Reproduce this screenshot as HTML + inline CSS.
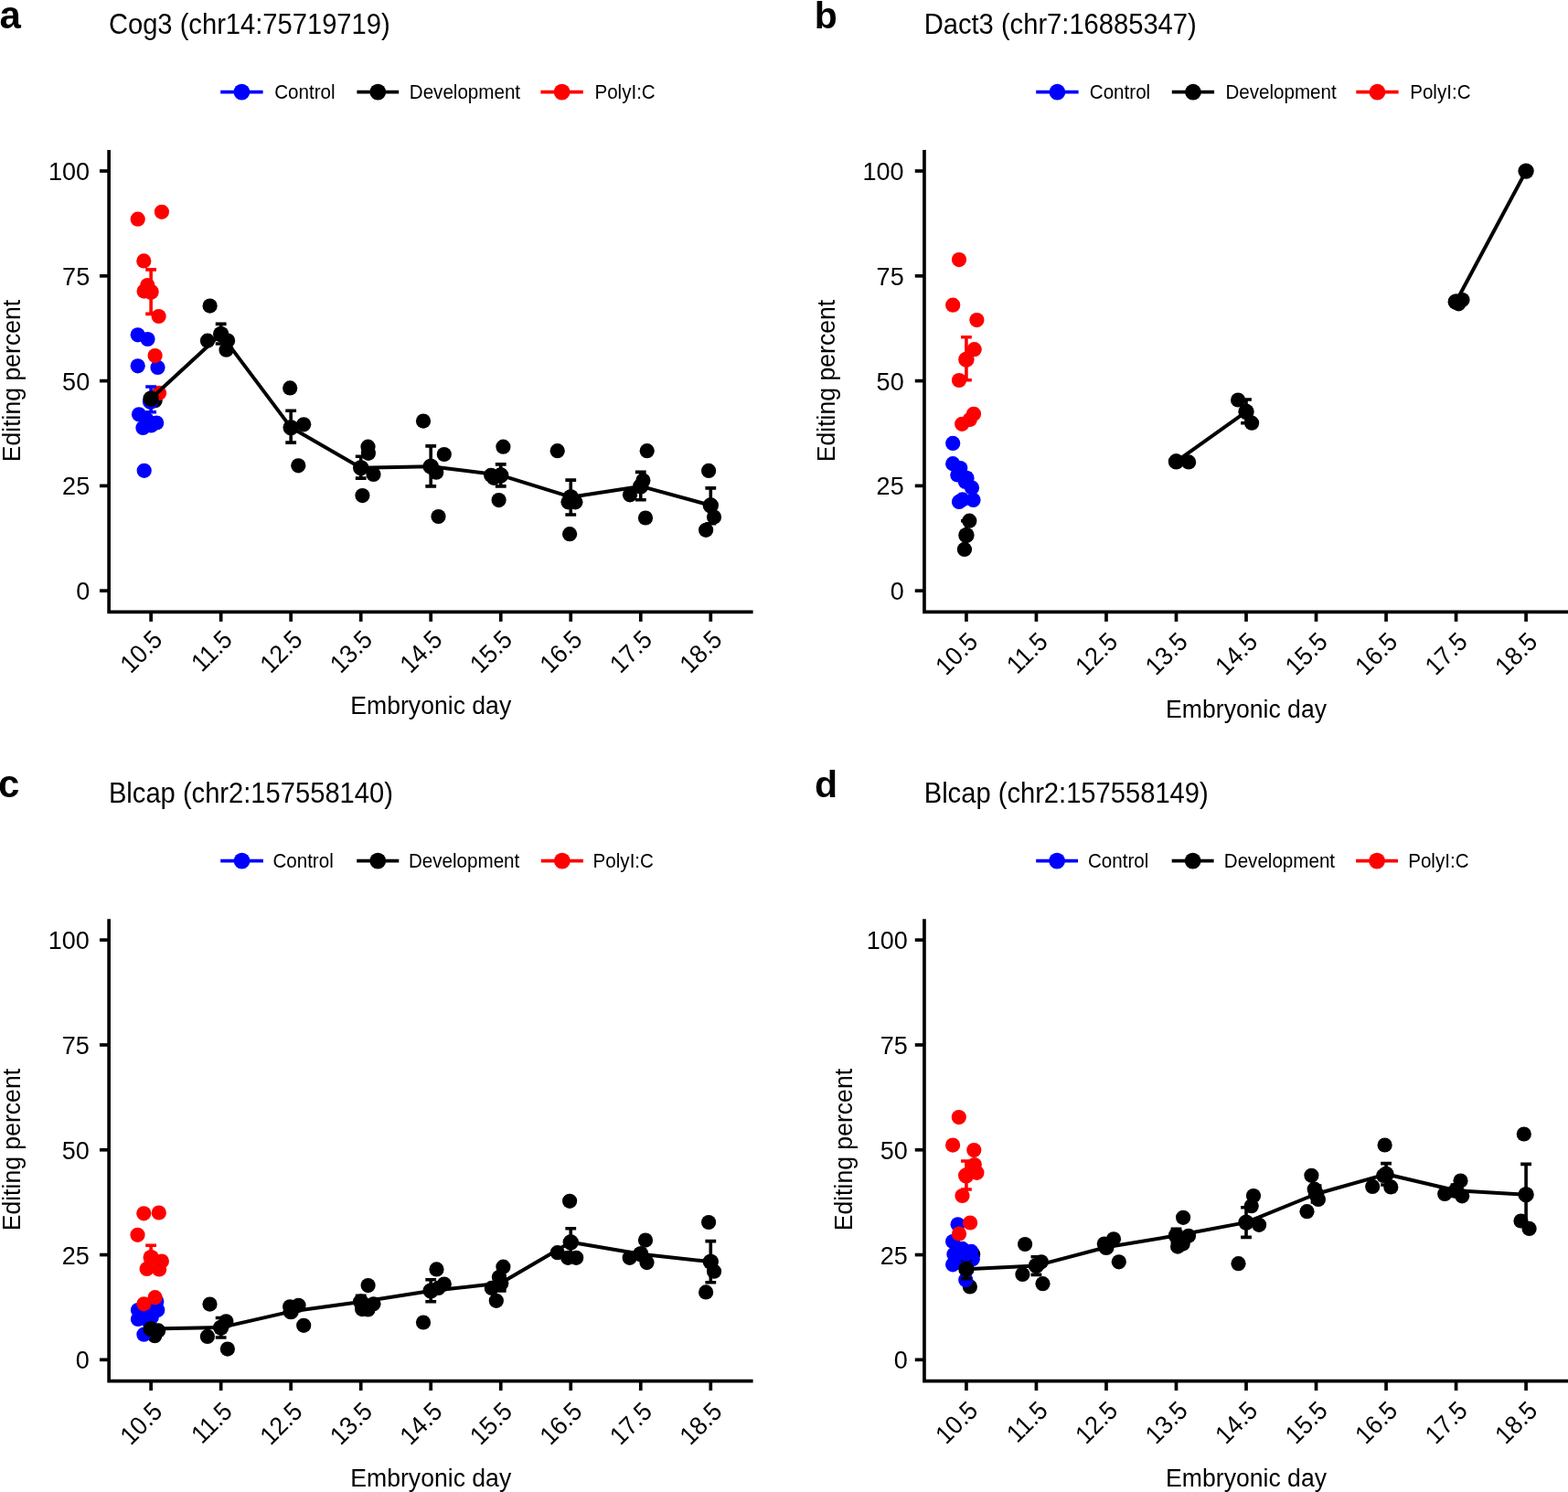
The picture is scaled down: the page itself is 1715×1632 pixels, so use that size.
<!DOCTYPE html>
<html lang="en"><head><meta charset="utf-8"><title>Editing percent by embryonic day</title>
<style>html,body{margin:0;padding:0;background:#fff}body{width:1715px;height:1632px;overflow:hidden}svg{display:block}text{font-family:'Liberation Sans', Arial, Helvetica, sans-serif;fill:#000}.t{font-size:30.61px}.l{font-size:21.42px}.x{font-size:27px}.k{font-size:28px}.b{font-size:42px;font-weight:bold}</style>
</head><body>
<svg width="1715" height="1632" viewBox="0 0 1715 1632">
<rect width="1715" height="1632" fill="#fff"/>
<g id="panel-a">
<text class="b" transform="translate(-0.5 30.7)">a</text>
<text class="t" transform="translate(118.9 36.9) scale(0.9524 1)">Cog3 (chr14:75719719)</text>
<line x1="241.2" y1="100.6" x2="287.6" y2="100.6" stroke="#0000ff" stroke-width="3.7"/>
<circle cx="264.4" cy="100.6" r="8.9" fill="#0000ff"/>
<text class="l" transform="translate(300.2 107.8) scale(0.9612 1)">Control</text>
<line x1="390.4" y1="100.6" x2="436.2" y2="100.6" stroke="#000000" stroke-width="3.7"/>
<circle cx="413.3" cy="100.6" r="8.9" fill="#000000"/>
<text class="l" transform="translate(447.8 107.8) scale(0.9612 1)">Development</text>
<line x1="591.4" y1="100.6" x2="637.8" y2="100.6" stroke="#ff0000" stroke-width="3.7"/>
<circle cx="614.6" cy="100.6" r="8.9" fill="#ff0000"/>
<text class="l" transform="translate(650.4 107.8) scale(0.9612 1)">PolyI:C</text>
<g fill="#000000"><circle cx="169.6" cy="438.2" r="8.1"/><circle cx="229.6" cy="334.6" r="8.1"/><circle cx="227" cy="372.7" r="8.1"/><circle cx="249.1" cy="372.5" r="8.1"/><circle cx="247.5" cy="382.7" r="8.1"/><circle cx="317.2" cy="424.4" r="8.1"/><circle cx="332.2" cy="464.3" r="8.1"/><circle cx="326.3" cy="509.3" r="8.1"/><circle cx="402.5" cy="488.7" r="8.1"/><circle cx="402.9" cy="495.8" r="8.1"/><circle cx="408.5" cy="519" r="8.1"/><circle cx="396.4" cy="542.1" r="8.1"/><circle cx="463" cy="460.6" r="8.1"/><circle cx="485.8" cy="497" r="8.1"/><circle cx="477.2" cy="516.7" r="8.1"/><circle cx="479.5" cy="565" r="8.1"/><circle cx="550.4" cy="488.7" r="8.1"/><circle cx="537.1" cy="519.8" r="8.1"/><circle cx="540.1" cy="522.8" r="8.1"/><circle cx="545.6" cy="547.1" r="8.1"/><circle cx="609.7" cy="493.2" r="8.1"/><circle cx="621.5" cy="549.3" r="8.1"/><circle cx="629.4" cy="549.3" r="8.1"/><circle cx="623.1" cy="584.2" r="8.1"/><circle cx="707.7" cy="493.2" r="8.1"/><circle cx="703.4" cy="525.5" r="8.1"/><circle cx="689" cy="541.3" r="8.1"/><circle cx="706" cy="566.5" r="8.1"/><circle cx="775.1" cy="514.9" r="8.1"/><circle cx="781" cy="565.6" r="8.1"/><circle cx="772.1" cy="579.8" r="8.1"/></g>
<g fill="#0000ff"><circle cx="150.7" cy="366.3" r="8.1"/><circle cx="161.5" cy="371" r="8.1"/><circle cx="150.7" cy="400.3" r="8.1"/><circle cx="172.5" cy="401.9" r="8.1"/><circle cx="152" cy="453.3" r="8.1"/><circle cx="156.4" cy="468" r="8.1"/><circle cx="165.2" cy="465.4" r="8.1"/><circle cx="171.2" cy="462.5" r="8.1"/><circle cx="157.7" cy="514.8" r="8.1"/><circle cx="160.5" cy="459" r="8.1"/></g>
<g fill="#ff0000"><circle cx="150.7" cy="239.7" r="8.1"/><circle cx="176.9" cy="231.8" r="8.1"/><circle cx="157.3" cy="285.4" r="8.1"/><circle cx="161.3" cy="312.1" r="8.1"/><circle cx="157.6" cy="318.6" r="8.1"/><circle cx="173.6" cy="346" r="8.1"/><circle cx="169.6" cy="389.1" r="8.1"/><circle cx="174" cy="429.9" r="8.1"/></g>
<path d="M159.23 423H171.03M165.13 423V450.8M159.23 450.8H171.03" stroke="#0000ff" stroke-width="3.6" fill="none"/>
<path d="M159.23 294.9H171.03M165.13 294.9V343.4M159.23 343.4H171.03" stroke="#ff0000" stroke-width="3.6" fill="none"/>
<path d="M235.75 354.4H247.55M241.65 354.4V376M235.75 376H247.55" stroke="#000000" stroke-width="3.6" fill="none"/>
<path d="M312.27 449.3H324.07M318.17 449.3V484.1M312.27 484.1H324.07" stroke="#000000" stroke-width="3.6" fill="none"/>
<path d="M388.79 499.3H400.59M394.69 499.3V523.1M388.79 523.1H400.59" stroke="#000000" stroke-width="3.6" fill="none"/>
<path d="M465.31 487.9H477.11M471.21 487.9V531.9M465.31 531.9H477.11" stroke="#000000" stroke-width="3.6" fill="none"/>
<path d="M541.83 507.9H553.63M547.73 507.9V531.9M541.83 531.9H553.63" stroke="#000000" stroke-width="3.6" fill="none"/>
<path d="M618.35 525.1H630.15M624.25 525.1V563M618.35 563H630.15" stroke="#000000" stroke-width="3.6" fill="none"/>
<path d="M694.87 516.4H706.67M700.77 516.4V546.8M694.87 546.8H706.67" stroke="#000000" stroke-width="3.6" fill="none"/>
<path d="M771.39 533.9H783.19M777.29 533.9V572.8M771.39 572.8H783.19" stroke="#000000" stroke-width="3.6" fill="none"/>
<circle cx="164.6" cy="439.2" r="8.7" fill="#0000ff"/>
<circle cx="165" cy="319.2" r="8.7" fill="#ff0000"/>
<polyline points="165.13,436 241.65,365.5 318.17,467.6 394.69,511.7 471.21,510.2 547.73,519.8 624.25,543.7 700.77,531.9 777.29,552.8" fill="none" stroke="#000" stroke-width="4" stroke-linejoin="round"/>
<g fill="#000"><circle cx="165.13" cy="436" r="8.7"/><circle cx="241.65" cy="365.5" r="8.7"/><circle cx="318.17" cy="467.6" r="8.7"/><circle cx="394.69" cy="511.7" r="8.7"/><circle cx="471.21" cy="510.2" r="8.7"/><circle cx="547.73" cy="519.8" r="8.7"/><circle cx="624.25" cy="543.7" r="8.7"/><circle cx="700.77" cy="531.9" r="8.7"/><circle cx="777.29" cy="552.8" r="8.7"/></g>
<path d="M119.15 165.9V669.4H821.75" fill="none" stroke="#000" stroke-width="3.7" stroke-linecap="square" stroke-linejoin="miter"/>
<line x1="108.95" y1="646.19" x2="119.15" y2="646.19" stroke="#000" stroke-width="3.7"/>
<text class="k" text-anchor="end" transform="translate(98.15 656.19) scale(0.965 1)">0</text>
<line x1="108.95" y1="531.4" x2="119.15" y2="531.4" stroke="#000" stroke-width="3.7"/>
<text class="k" text-anchor="end" transform="translate(98.15 541.4) scale(0.965 1)">25</text>
<line x1="108.95" y1="416.61" x2="119.15" y2="416.61" stroke="#000" stroke-width="3.7"/>
<text class="k" text-anchor="end" transform="translate(98.15 426.61) scale(0.965 1)">50</text>
<line x1="108.95" y1="301.82" x2="119.15" y2="301.82" stroke="#000" stroke-width="3.7"/>
<text class="k" text-anchor="end" transform="translate(98.15 311.82) scale(0.965 1)">75</text>
<line x1="108.95" y1="187.03" x2="119.15" y2="187.03" stroke="#000" stroke-width="3.7"/>
<text class="k" text-anchor="end" transform="translate(98.15 197.03) scale(0.965 1)">100</text>
<line x1="165.13" y1="669.4" x2="165.13" y2="679.9" stroke="#000" stroke-width="3.7"/>
<text class="k" text-anchor="end" transform="translate(179.23 701.3) rotate(-45) scale(0.943 1)">10.5</text>
<line x1="241.65" y1="669.4" x2="241.65" y2="679.9" stroke="#000" stroke-width="3.7"/>
<text class="k" text-anchor="end" transform="translate(255.75 701.3) rotate(-45) scale(0.943 1)">11.5</text>
<line x1="318.17" y1="669.4" x2="318.17" y2="679.9" stroke="#000" stroke-width="3.7"/>
<text class="k" text-anchor="end" transform="translate(332.27 701.3) rotate(-45) scale(0.943 1)">12.5</text>
<line x1="394.69" y1="669.4" x2="394.69" y2="679.9" stroke="#000" stroke-width="3.7"/>
<text class="k" text-anchor="end" transform="translate(408.79 701.3) rotate(-45) scale(0.943 1)">13.5</text>
<line x1="471.21" y1="669.4" x2="471.21" y2="679.9" stroke="#000" stroke-width="3.7"/>
<text class="k" text-anchor="end" transform="translate(485.31 701.3) rotate(-45) scale(0.943 1)">14.5</text>
<line x1="547.73" y1="669.4" x2="547.73" y2="679.9" stroke="#000" stroke-width="3.7"/>
<text class="k" text-anchor="end" transform="translate(561.83 701.3) rotate(-45) scale(0.943 1)">15.5</text>
<line x1="624.25" y1="669.4" x2="624.25" y2="679.9" stroke="#000" stroke-width="3.7"/>
<text class="k" text-anchor="end" transform="translate(638.35 701.3) rotate(-45) scale(0.943 1)">16.5</text>
<line x1="700.77" y1="669.4" x2="700.77" y2="679.9" stroke="#000" stroke-width="3.7"/>
<text class="k" text-anchor="end" transform="translate(714.87 701.3) rotate(-45) scale(0.943 1)">17.5</text>
<line x1="777.29" y1="669.4" x2="777.29" y2="679.9" stroke="#000" stroke-width="3.7"/>
<text class="k" text-anchor="end" transform="translate(791.39 701.3) rotate(-45) scale(0.943 1)">18.5</text>
<text class="x" text-anchor="middle" transform="translate(471.25 781) scale(0.9852 1)">Embryonic day</text>
<text class="x" text-anchor="middle" transform="translate(22.05 416.5) rotate(-90) scale(0.9852 1)">Editing percent</text>
</g>
<g id="panel-b">
<text class="b" style="font-size:41px" transform="translate(890.8 30.7)">b</text>
<text class="t" transform="translate(1010.7 36.9) scale(0.9524 1)">Dact3 (chr7:16885347)</text>
<line x1="1133.2" y1="100.7" x2="1179.6" y2="100.7" stroke="#0000ff" stroke-width="3.7"/>
<circle cx="1156.4" cy="100.7" r="8.9" fill="#0000ff"/>
<text class="l" transform="translate(1191.8 107.9) scale(0.9612 1)">Control</text>
<line x1="1281.8" y1="100.7" x2="1328.1" y2="100.7" stroke="#000000" stroke-width="3.7"/>
<circle cx="1304.95" cy="100.7" r="8.9" fill="#000000"/>
<text class="l" transform="translate(1340.4 107.9) scale(0.9612 1)">Development</text>
<line x1="1483.3" y1="100.7" x2="1529.6" y2="100.7" stroke="#ff0000" stroke-width="3.7"/>
<circle cx="1506.45" cy="100.7" r="8.9" fill="#ff0000"/>
<text class="l" transform="translate(1542.2 107.9) scale(0.9612 1)">PolyI:C</text>
<g fill="#000000"><circle cx="1060.3" cy="569.7" r="8.1"/><circle cx="1054.9" cy="600.9" r="8.1"/><circle cx="1300.1" cy="505.4" r="8.1"/><circle cx="1354.1" cy="437.5" r="8.1"/><circle cx="1369.1" cy="462.7" r="8.1"/><circle cx="1591.7" cy="330.3" r="8.1"/><circle cx="1599.5" cy="328.1" r="8.1"/><circle cx="1595.4" cy="332.3" r="8.1"/></g>
<g fill="#0000ff"><circle cx="1042.2" cy="484.9" r="8.1"/><circle cx="1042.2" cy="507.2" r="8.1"/><circle cx="1050.3" cy="512.1" r="8.1"/><circle cx="1047.3" cy="519.5" r="8.1"/><circle cx="1055.9" cy="527" r="8.1"/><circle cx="1063" cy="533.5" r="8.1"/><circle cx="1064.5" cy="546.9" r="8.1"/><circle cx="1052.7" cy="546.4" r="8.1"/><circle cx="1049" cy="548.9" r="8.1"/></g>
<g fill="#ff0000"><circle cx="1049" cy="284.1" r="8.1"/><circle cx="1042.2" cy="333.7" r="8.1"/><circle cx="1068.4" cy="350.1" r="8.1"/><circle cx="1065.7" cy="382.2" r="8.1"/><circle cx="1049" cy="416" r="8.1"/><circle cx="1065" cy="452.8" r="8.1"/><circle cx="1060.8" cy="458.9" r="8.1"/><circle cx="1052.2" cy="463.8" r="8.1"/></g>
<path d="M1051.03 518H1062.83M1056.93 518V530M1051.03 530H1062.83" stroke="#0000ff" stroke-width="3.6" fill="none"/>
<path d="M1051.03 368.7H1062.83M1056.93 368.7V415.8M1051.03 415.8H1062.83" stroke="#ff0000" stroke-width="3.6" fill="none"/>
<path d="M1051.03 569.7H1062.83M1056.93 569.7V600.9M1051.03 600.9H1062.83" stroke="#000000" stroke-width="3.6" fill="none"/>
<path d="M1357.11 437H1368.91M1363.01 437V462.7M1357.11 462.7H1368.91" stroke="#000000" stroke-width="3.6" fill="none"/>
<circle cx="1056.9" cy="523.2" r="8.7" fill="#0000ff"/>
<circle cx="1056.9" cy="393.2" r="8.7" fill="#ff0000"/>
<polyline points="1286.49,504.8 1363.01,450.3" fill="none" stroke="#000" stroke-width="4" stroke-linejoin="round"/>
<g fill="#000"><circle cx="1286.49" cy="504.8" r="8.7"/><circle cx="1363.01" cy="450.3" r="8.7"/></g>
<polyline points="1592.57,330 1669.09,187.1" fill="none" stroke="#000" stroke-width="4" stroke-linejoin="round"/>
<g fill="#000"><circle cx="1592.57" cy="330" r="8.7"/><circle cx="1669.09" cy="187.1" r="8.7"/></g>
<circle cx="1056.93" cy="585.4" r="8.7" fill="#000"/>
<path d="M1010.95 165.9V669.4H1713.55" fill="none" stroke="#000" stroke-width="3.7" stroke-linecap="square" stroke-linejoin="miter"/>
<line x1="1000.75" y1="646.19" x2="1010.95" y2="646.19" stroke="#000" stroke-width="3.7"/>
<text class="k" text-anchor="end" transform="translate(988.65 656.19) scale(0.965 1)">0</text>
<line x1="1000.75" y1="531.4" x2="1010.95" y2="531.4" stroke="#000" stroke-width="3.7"/>
<text class="k" text-anchor="end" transform="translate(988.65 541.4) scale(0.965 1)">25</text>
<line x1="1000.75" y1="416.61" x2="1010.95" y2="416.61" stroke="#000" stroke-width="3.7"/>
<text class="k" text-anchor="end" transform="translate(988.65 426.61) scale(0.965 1)">50</text>
<line x1="1000.75" y1="301.82" x2="1010.95" y2="301.82" stroke="#000" stroke-width="3.7"/>
<text class="k" text-anchor="end" transform="translate(988.65 311.82) scale(0.965 1)">75</text>
<line x1="1000.75" y1="187.03" x2="1010.95" y2="187.03" stroke="#000" stroke-width="3.7"/>
<text class="k" text-anchor="end" transform="translate(988.65 197.03) scale(0.965 1)">100</text>
<line x1="1056.93" y1="669.4" x2="1056.93" y2="679.9" stroke="#000" stroke-width="3.7"/>
<text class="k" text-anchor="end" transform="translate(1071.03 703.6) rotate(-45) scale(0.943 1)">10.5</text>
<line x1="1133.45" y1="669.4" x2="1133.45" y2="679.9" stroke="#000" stroke-width="3.7"/>
<text class="k" text-anchor="end" transform="translate(1147.55 703.6) rotate(-45) scale(0.943 1)">11.5</text>
<line x1="1209.97" y1="669.4" x2="1209.97" y2="679.9" stroke="#000" stroke-width="3.7"/>
<text class="k" text-anchor="end" transform="translate(1224.07 703.6) rotate(-45) scale(0.943 1)">12.5</text>
<line x1="1286.49" y1="669.4" x2="1286.49" y2="679.9" stroke="#000" stroke-width="3.7"/>
<text class="k" text-anchor="end" transform="translate(1300.59 703.6) rotate(-45) scale(0.943 1)">13.5</text>
<line x1="1363.01" y1="669.4" x2="1363.01" y2="679.9" stroke="#000" stroke-width="3.7"/>
<text class="k" text-anchor="end" transform="translate(1377.11 703.6) rotate(-45) scale(0.943 1)">14.5</text>
<line x1="1439.53" y1="669.4" x2="1439.53" y2="679.9" stroke="#000" stroke-width="3.7"/>
<text class="k" text-anchor="end" transform="translate(1453.63 703.6) rotate(-45) scale(0.943 1)">15.5</text>
<line x1="1516.05" y1="669.4" x2="1516.05" y2="679.9" stroke="#000" stroke-width="3.7"/>
<text class="k" text-anchor="end" transform="translate(1530.15 703.6) rotate(-45) scale(0.943 1)">16.5</text>
<line x1="1592.57" y1="669.4" x2="1592.57" y2="679.9" stroke="#000" stroke-width="3.7"/>
<text class="k" text-anchor="end" transform="translate(1606.67 703.6) rotate(-45) scale(0.943 1)">17.5</text>
<line x1="1669.09" y1="669.4" x2="1669.09" y2="679.9" stroke="#000" stroke-width="3.7"/>
<text class="k" text-anchor="end" transform="translate(1683.19 703.6) rotate(-45) scale(0.943 1)">18.5</text>
<text class="x" text-anchor="middle" transform="translate(1363.05 784.5) scale(0.9852 1)">Embryonic day</text>
<text class="x" text-anchor="middle" transform="translate(913.35 416.5) rotate(-90) scale(0.9852 1)">Editing percent</text>
</g>
<g id="panel-c">
<text class="b" transform="translate(-2 871.85)">c</text>
<text class="t" transform="translate(118.9 878.05) scale(0.9524 1)">Blcap (chr2:157558140)</text>
<line x1="241.2" y1="941.6" x2="287.9" y2="941.6" stroke="#0000ff" stroke-width="3.7"/>
<circle cx="264.55" cy="941.6" r="8.9" fill="#0000ff"/>
<text class="l" transform="translate(298.4 948.8) scale(0.9612 1)">Control</text>
<line x1="390.2" y1="941.6" x2="436.3" y2="941.6" stroke="#000000" stroke-width="3.7"/>
<circle cx="413.25" cy="941.6" r="8.9" fill="#000000"/>
<text class="l" transform="translate(447 948.8) scale(0.9612 1)">Development</text>
<line x1="591.8" y1="941.6" x2="637.9" y2="941.6" stroke="#ff0000" stroke-width="3.7"/>
<circle cx="614.85" cy="941.6" r="8.9" fill="#ff0000"/>
<text class="l" transform="translate(648.6 948.8) scale(0.9612 1)">PolyI:C</text>
<g fill="#000000"><circle cx="173.1" cy="1455.4" r="8.1"/><circle cx="169.3" cy="1461.2" r="8.1"/><circle cx="229.5" cy="1426.6" r="8.1"/><circle cx="247.3" cy="1445.3" r="8.1"/><circle cx="226.9" cy="1461.9" r="8.1"/><circle cx="248.9" cy="1475.6" r="8.1"/><circle cx="317.1" cy="1429.3" r="8.1"/><circle cx="326.5" cy="1427.8" r="8.1"/><circle cx="332.2" cy="1449.8" r="8.1"/><circle cx="402.6" cy="1406.1" r="8.1"/><circle cx="408.5" cy="1426.3" r="8.1"/><circle cx="396.1" cy="1432.1" r="8.1"/><circle cx="402.5" cy="1432.4" r="8.1"/><circle cx="477.5" cy="1388.4" r="8.1"/><circle cx="485.8" cy="1404.6" r="8.1"/><circle cx="479.5" cy="1408.9" r="8.1"/><circle cx="463" cy="1446.5" r="8.1"/><circle cx="550.4" cy="1385.7" r="8.1"/><circle cx="545.9" cy="1397" r="8.1"/><circle cx="537.8" cy="1408.9" r="8.1"/><circle cx="542.8" cy="1422.8" r="8.1"/><circle cx="623.1" cy="1313.8" r="8.1"/><circle cx="609.7" cy="1370.2" r="8.1"/><circle cx="621.2" cy="1375.8" r="8.1"/><circle cx="630.2" cy="1375.8" r="8.1"/><circle cx="706" cy="1356.6" r="8.1"/><circle cx="688.7" cy="1375.8" r="8.1"/><circle cx="707.5" cy="1381.1" r="8.1"/><circle cx="775.1" cy="1337" r="8.1"/><circle cx="781" cy="1390.7" r="8.1"/><circle cx="772.1" cy="1413.4" r="8.1"/></g>
<g fill="#0000ff"><circle cx="151" cy="1433.1" r="8.1"/><circle cx="171.3" cy="1423.6" r="8.1"/><circle cx="172.3" cy="1433.1" r="8.1"/><circle cx="151" cy="1443" r="8.1"/><circle cx="157.9" cy="1437.7" r="8.1"/><circle cx="157.4" cy="1459.7" r="8.1"/><circle cx="163" cy="1446" r="8.1"/><circle cx="160" cy="1430" r="8.1"/></g>
<g fill="#ff0000"><circle cx="157.3" cy="1327.3" r="8.1"/><circle cx="173.8" cy="1326.5" r="8.1"/><circle cx="150.5" cy="1350.8" r="8.1"/><circle cx="176.9" cy="1379.6" r="8.1"/><circle cx="160.6" cy="1387.9" r="8.1"/><circle cx="174.1" cy="1388.4" r="8.1"/><circle cx="169.6" cy="1419.2" r="8.1"/><circle cx="157.4" cy="1426.3" r="8.1"/></g>
<path d="M159.23 1435.5H171.03M165.13 1435.5V1446M159.23 1446H171.03" stroke="#0000ff" stroke-width="3.6" fill="none"/>
<path d="M159.23 1362.3H171.03M165.13 1362.3V1389M159.23 1389H171.03" stroke="#ff0000" stroke-width="3.6" fill="none"/>
<path d="M159.23 1449H171.03M165.13 1449V1458.5M159.23 1458.5H171.03" stroke="#000000" stroke-width="3.6" fill="none"/>
<path d="M235.75 1441.5H247.55M241.65 1441.5V1463M235.75 1463H247.55" stroke="#000000" stroke-width="3.6" fill="none"/>
<path d="M312.27 1429.5H324.07M318.17 1429.5V1438.5M312.27 1438.5H324.07" stroke="#000000" stroke-width="3.6" fill="none"/>
<path d="M388.79 1417.2H400.59M394.69 1417.2V1431M388.79 1431H400.59" stroke="#000000" stroke-width="3.6" fill="none"/>
<path d="M465.31 1399.8H477.11M471.21 1399.8V1423.7M465.31 1423.7H477.11" stroke="#000000" stroke-width="3.6" fill="none"/>
<path d="M541.83 1395.5H553.63M547.73 1395.5V1411.9M541.83 1411.9H553.63" stroke="#000000" stroke-width="3.6" fill="none"/>
<path d="M618.35 1343.7H630.15M624.25 1343.7V1374M618.35 1374H630.15" stroke="#000000" stroke-width="3.6" fill="none"/>
<path d="M694.87 1367H706.67M700.77 1367V1376.5M694.87 1376.5H706.67" stroke="#000000" stroke-width="3.6" fill="none"/>
<path d="M771.39 1357.6H783.19M777.29 1357.6V1402.8M771.39 1402.8H783.19" stroke="#000000" stroke-width="3.6" fill="none"/>
<circle cx="165.2" cy="1440.7" r="8.7" fill="#0000ff"/>
<circle cx="165.2" cy="1375.5" r="8.7" fill="#ff0000"/>
<polyline points="165.13,1453.6 241.65,1452.1 318.17,1434.6 394.69,1424 471.21,1411.9 547.73,1403.6 624.25,1358.8 700.77,1371.7 777.29,1380.1" fill="none" stroke="#000" stroke-width="4" stroke-linejoin="round"/>
<g fill="#000"><circle cx="165.13" cy="1453.6" r="8.7"/><circle cx="241.65" cy="1452.1" r="8.7"/><circle cx="318.17" cy="1434.6" r="8.7"/><circle cx="394.69" cy="1424" r="8.7"/><circle cx="471.21" cy="1411.9" r="8.7"/><circle cx="547.73" cy="1403.6" r="8.7"/><circle cx="624.25" cy="1358.8" r="8.7"/><circle cx="700.77" cy="1371.7" r="8.7"/><circle cx="777.29" cy="1380.1" r="8.7"/></g>
<path d="M119.15 1007.05V1510.55H821.75" fill="none" stroke="#000" stroke-width="3.7" stroke-linecap="square" stroke-linejoin="miter"/>
<line x1="108.95" y1="1487.34" x2="119.15" y2="1487.34" stroke="#000" stroke-width="3.7"/>
<text class="k" text-anchor="end" transform="translate(97.75 1497.34) scale(0.965 1)">0</text>
<line x1="108.95" y1="1372.55" x2="119.15" y2="1372.55" stroke="#000" stroke-width="3.7"/>
<text class="k" text-anchor="end" transform="translate(97.75 1382.55) scale(0.965 1)">25</text>
<line x1="108.95" y1="1257.76" x2="119.15" y2="1257.76" stroke="#000" stroke-width="3.7"/>
<text class="k" text-anchor="end" transform="translate(97.75 1267.76) scale(0.965 1)">50</text>
<line x1="108.95" y1="1142.97" x2="119.15" y2="1142.97" stroke="#000" stroke-width="3.7"/>
<text class="k" text-anchor="end" transform="translate(97.75 1152.97) scale(0.965 1)">75</text>
<line x1="108.95" y1="1028.18" x2="119.15" y2="1028.18" stroke="#000" stroke-width="3.7"/>
<text class="k" text-anchor="end" transform="translate(97.75 1038.18) scale(0.965 1)">100</text>
<line x1="165.13" y1="1510.55" x2="165.13" y2="1521.05" stroke="#000" stroke-width="3.7"/>
<text class="k" text-anchor="end" transform="translate(179.23 1545.65) rotate(-45) scale(0.943 1)">10.5</text>
<line x1="241.65" y1="1510.55" x2="241.65" y2="1521.05" stroke="#000" stroke-width="3.7"/>
<text class="k" text-anchor="end" transform="translate(255.75 1545.65) rotate(-45) scale(0.943 1)">11.5</text>
<line x1="318.17" y1="1510.55" x2="318.17" y2="1521.05" stroke="#000" stroke-width="3.7"/>
<text class="k" text-anchor="end" transform="translate(332.27 1545.65) rotate(-45) scale(0.943 1)">12.5</text>
<line x1="394.69" y1="1510.55" x2="394.69" y2="1521.05" stroke="#000" stroke-width="3.7"/>
<text class="k" text-anchor="end" transform="translate(408.79 1545.65) rotate(-45) scale(0.943 1)">13.5</text>
<line x1="471.21" y1="1510.55" x2="471.21" y2="1521.05" stroke="#000" stroke-width="3.7"/>
<text class="k" text-anchor="end" transform="translate(485.31 1545.65) rotate(-45) scale(0.943 1)">14.5</text>
<line x1="547.73" y1="1510.55" x2="547.73" y2="1521.05" stroke="#000" stroke-width="3.7"/>
<text class="k" text-anchor="end" transform="translate(561.83 1545.65) rotate(-45) scale(0.943 1)">15.5</text>
<line x1="624.25" y1="1510.55" x2="624.25" y2="1521.05" stroke="#000" stroke-width="3.7"/>
<text class="k" text-anchor="end" transform="translate(638.35 1545.65) rotate(-45) scale(0.943 1)">16.5</text>
<line x1="700.77" y1="1510.55" x2="700.77" y2="1521.05" stroke="#000" stroke-width="3.7"/>
<text class="k" text-anchor="end" transform="translate(714.87 1545.65) rotate(-45) scale(0.943 1)">17.5</text>
<line x1="777.29" y1="1510.55" x2="777.29" y2="1521.05" stroke="#000" stroke-width="3.7"/>
<text class="k" text-anchor="end" transform="translate(791.39 1545.65) rotate(-45) scale(0.943 1)">18.5</text>
<text class="x" text-anchor="middle" transform="translate(471.25 1626.35) scale(0.9852 1)">Embryonic day</text>
<text class="x" text-anchor="middle" transform="translate(22.05 1257.65) rotate(-90) scale(0.9852 1)">Editing percent</text>
</g>
<g id="panel-d">
<text class="b" style="font-size:41px" transform="translate(891 871.85)">d</text>
<text class="t" transform="translate(1010.7 878.05) scale(0.9524 1)">Blcap (chr2:157558149)</text>
<line x1="1133.2" y1="941.6" x2="1179" y2="941.6" stroke="#0000ff" stroke-width="3.7"/>
<circle cx="1156.1" cy="941.6" r="8.9" fill="#0000ff"/>
<text class="l" transform="translate(1190 948.8) scale(0.9612 1)">Control</text>
<line x1="1281.7" y1="941.6" x2="1327.6" y2="941.6" stroke="#000000" stroke-width="3.7"/>
<circle cx="1304.65" cy="941.6" r="8.9" fill="#000000"/>
<text class="l" transform="translate(1338.8 948.8) scale(0.9612 1)">Development</text>
<line x1="1483.1" y1="941.6" x2="1529" y2="941.6" stroke="#ff0000" stroke-width="3.7"/>
<circle cx="1506.05" cy="941.6" r="8.9" fill="#ff0000"/>
<text class="l" transform="translate(1540.2 948.8) scale(0.9612 1)">PolyI:C</text>
<g fill="#000000"><circle cx="1064.2" cy="1372.1" r="8.1"/><circle cx="1060.9" cy="1407.4" r="8.1"/><circle cx="1121.1" cy="1361" r="8.1"/><circle cx="1138.9" cy="1380.3" r="8.1"/><circle cx="1118.4" cy="1393.9" r="8.1"/><circle cx="1140.5" cy="1404.2" r="8.1"/><circle cx="1218" cy="1355.3" r="8.1"/><circle cx="1207.8" cy="1360.6" r="8.1"/><circle cx="1223.8" cy="1380.3" r="8.1"/><circle cx="1294.1" cy="1331.8" r="8.1"/><circle cx="1300" cy="1351.8" r="8.1"/><circle cx="1293.7" cy="1360.6" r="8.1"/><circle cx="1288.1" cy="1363.6" r="8.1"/><circle cx="1371" cy="1308" r="8.1"/><circle cx="1368.7" cy="1319.2" r="8.1"/><circle cx="1377.1" cy="1339.8" r="8.1"/><circle cx="1354.5" cy="1382.2" r="8.1"/><circle cx="1434.4" cy="1285.8" r="8.1"/><circle cx="1437.7" cy="1300.7" r="8.1"/><circle cx="1441.9" cy="1312" r="8.1"/><circle cx="1429.5" cy="1325.2" r="8.1"/><circle cx="1514.6" cy="1252.5" r="8.1"/><circle cx="1513.2" cy="1286" r="8.1"/><circle cx="1501.2" cy="1297.9" r="8.1"/><circle cx="1521.3" cy="1298.4" r="8.1"/><circle cx="1597.5" cy="1291.6" r="8.1"/><circle cx="1580.2" cy="1306" r="8.1"/><circle cx="1599.2" cy="1308.3" r="8.1"/><circle cx="1666.8" cy="1240.5" r="8.1"/><circle cx="1663.5" cy="1335.5" r="8.1"/><circle cx="1672.6" cy="1343.9" r="8.1"/></g>
<g fill="#0000ff"><circle cx="1047.6" cy="1339.3" r="8.1"/><circle cx="1042.1" cy="1358" r="8.1"/><circle cx="1052.5" cy="1365.9" r="8.1"/><circle cx="1062.3" cy="1368.9" r="8.1"/><circle cx="1043.4" cy="1371.9" r="8.1"/><circle cx="1055.5" cy="1373.4" r="8.1"/><circle cx="1063.8" cy="1377.2" r="8.1"/><circle cx="1042.1" cy="1383.3" r="8.1"/><circle cx="1056.2" cy="1400" r="8.1"/><circle cx="1050" cy="1378" r="8.1"/></g>
<g fill="#ff0000"><circle cx="1048.8" cy="1222.1" r="8.1"/><circle cx="1042.1" cy="1252.6" r="8.1"/><circle cx="1065.3" cy="1258.1" r="8.1"/><circle cx="1065.8" cy="1274.1" r="8.1"/><circle cx="1068.4" cy="1282.8" r="8.1"/><circle cx="1052.5" cy="1308" r="8.1"/><circle cx="1061.1" cy="1337.5" r="8.1"/><circle cx="1049" cy="1349.5" r="8.1"/></g>
<path d="M1051.03 1364.5H1062.83M1056.93 1364.5V1376M1051.03 1376H1062.83" stroke="#0000ff" stroke-width="3.6" fill="none"/>
<path d="M1051.03 1270H1062.83M1056.93 1270V1301M1051.03 1301H1062.83" stroke="#ff0000" stroke-width="3.6" fill="none"/>
<path d="M1051.03 1378.2H1062.83M1056.93 1378.2V1398.8M1051.03 1398.8H1062.83" stroke="#000000" stroke-width="3.6" fill="none"/>
<path d="M1127.55 1374.7H1139.35M1133.45 1374.7V1394.4M1127.55 1394.4H1139.35" stroke="#000000" stroke-width="3.6" fill="none"/>
<path d="M1204.07 1359.5H1215.87M1209.97 1359.5V1368.5M1204.07 1368.5H1215.87" stroke="#000000" stroke-width="3.6" fill="none"/>
<path d="M1280.59 1344.3H1292.39M1286.49 1344.3V1359M1280.59 1359H1292.39" stroke="#000000" stroke-width="3.6" fill="none"/>
<path d="M1357.11 1320.7H1368.91M1363.01 1320.7V1353.4M1357.11 1353.4H1368.91" stroke="#000000" stroke-width="3.6" fill="none"/>
<path d="M1433.63 1297H1445.43M1439.53 1297V1315M1433.63 1315H1445.43" stroke="#000000" stroke-width="3.6" fill="none"/>
<path d="M1510.15 1272.6H1521.95M1516.05 1272.6V1296M1510.15 1296H1521.95" stroke="#000000" stroke-width="3.6" fill="none"/>
<path d="M1586.67 1296H1598.47M1592.57 1296V1308.5M1586.67 1308.5H1598.47" stroke="#000000" stroke-width="3.6" fill="none"/>
<path d="M1663.19 1273.4H1674.99M1669.09 1273.4V1340.1M1663.19 1340.1H1674.99" stroke="#000000" stroke-width="3.6" fill="none"/>
<circle cx="1056.65" cy="1371.4" r="8.7" fill="#0000ff"/>
<circle cx="1056.7" cy="1285.8" r="8.7" fill="#ff0000"/>
<polyline points="1056.93,1388.2 1133.45,1384.4 1209.97,1364.3 1286.49,1351.5 1363.01,1337.1 1439.53,1306 1516.05,1284.3 1592.57,1302.2 1669.09,1306.7" fill="none" stroke="#000" stroke-width="4" stroke-linejoin="round"/>
<g fill="#000"><circle cx="1056.93" cy="1388.2" r="8.7"/><circle cx="1133.45" cy="1384.4" r="8.7"/><circle cx="1209.97" cy="1364.3" r="8.7"/><circle cx="1286.49" cy="1351.5" r="8.7"/><circle cx="1363.01" cy="1337.1" r="8.7"/><circle cx="1439.53" cy="1306" r="8.7"/><circle cx="1516.05" cy="1284.3" r="8.7"/><circle cx="1592.57" cy="1302.2" r="8.7"/><circle cx="1669.09" cy="1306.7" r="8.7"/></g>
<path d="M1010.95 1007.05V1510.55H1713.55" fill="none" stroke="#000" stroke-width="3.7" stroke-linecap="square" stroke-linejoin="miter"/>
<line x1="1000.75" y1="1487.34" x2="1010.95" y2="1487.34" stroke="#000" stroke-width="3.7"/>
<text class="k" text-anchor="end" transform="translate(992.75 1497.34) scale(0.965 1)">0</text>
<line x1="1000.75" y1="1372.55" x2="1010.95" y2="1372.55" stroke="#000" stroke-width="3.7"/>
<text class="k" text-anchor="end" transform="translate(992.75 1382.55) scale(0.965 1)">25</text>
<line x1="1000.75" y1="1257.76" x2="1010.95" y2="1257.76" stroke="#000" stroke-width="3.7"/>
<text class="k" text-anchor="end" transform="translate(992.75 1267.76) scale(0.965 1)">50</text>
<line x1="1000.75" y1="1142.97" x2="1010.95" y2="1142.97" stroke="#000" stroke-width="3.7"/>
<text class="k" text-anchor="end" transform="translate(992.75 1152.97) scale(0.965 1)">75</text>
<line x1="1000.75" y1="1028.18" x2="1010.95" y2="1028.18" stroke="#000" stroke-width="3.7"/>
<text class="k" text-anchor="end" transform="translate(992.75 1038.18) scale(0.965 1)">100</text>
<line x1="1056.93" y1="1510.55" x2="1056.93" y2="1521.05" stroke="#000" stroke-width="3.7"/>
<text class="k" text-anchor="end" transform="translate(1071.03 1544.55) rotate(-45) scale(0.943 1)">10.5</text>
<line x1="1133.45" y1="1510.55" x2="1133.45" y2="1521.05" stroke="#000" stroke-width="3.7"/>
<text class="k" text-anchor="end" transform="translate(1147.55 1544.55) rotate(-45) scale(0.943 1)">11.5</text>
<line x1="1209.97" y1="1510.55" x2="1209.97" y2="1521.05" stroke="#000" stroke-width="3.7"/>
<text class="k" text-anchor="end" transform="translate(1224.07 1544.55) rotate(-45) scale(0.943 1)">12.5</text>
<line x1="1286.49" y1="1510.55" x2="1286.49" y2="1521.05" stroke="#000" stroke-width="3.7"/>
<text class="k" text-anchor="end" transform="translate(1300.59 1544.55) rotate(-45) scale(0.943 1)">13.5</text>
<line x1="1363.01" y1="1510.55" x2="1363.01" y2="1521.05" stroke="#000" stroke-width="3.7"/>
<text class="k" text-anchor="end" transform="translate(1377.11 1544.55) rotate(-45) scale(0.943 1)">14.5</text>
<line x1="1439.53" y1="1510.55" x2="1439.53" y2="1521.05" stroke="#000" stroke-width="3.7"/>
<text class="k" text-anchor="end" transform="translate(1453.63 1544.55) rotate(-45) scale(0.943 1)">15.5</text>
<line x1="1516.05" y1="1510.55" x2="1516.05" y2="1521.05" stroke="#000" stroke-width="3.7"/>
<text class="k" text-anchor="end" transform="translate(1530.15 1544.55) rotate(-45) scale(0.943 1)">16.5</text>
<line x1="1592.57" y1="1510.55" x2="1592.57" y2="1521.05" stroke="#000" stroke-width="3.7"/>
<text class="k" text-anchor="end" transform="translate(1606.67 1544.55) rotate(-45) scale(0.943 1)">17.5</text>
<line x1="1669.09" y1="1510.55" x2="1669.09" y2="1521.05" stroke="#000" stroke-width="3.7"/>
<text class="k" text-anchor="end" transform="translate(1683.19 1544.55) rotate(-45) scale(0.943 1)">18.5</text>
<text class="x" text-anchor="middle" transform="translate(1363.05 1626.35) scale(0.9852 1)">Embryonic day</text>
<text class="x" text-anchor="middle" transform="translate(932.25 1257.65) rotate(-90) scale(0.9852 1)">Editing percent</text>
</g>
</svg></body></html>
